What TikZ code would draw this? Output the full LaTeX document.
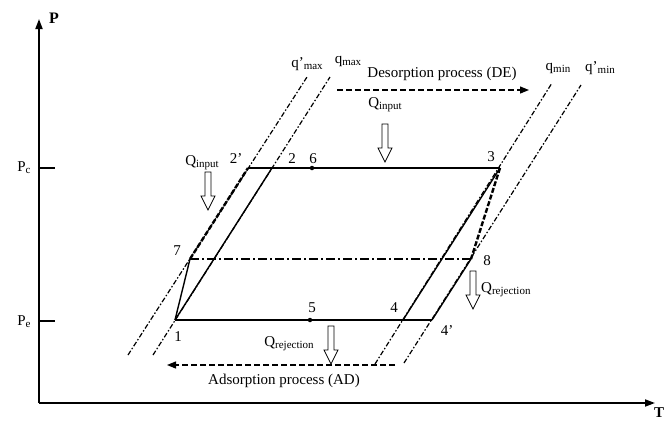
\documentclass[tikz,border=0pt]{standalone}
\usepackage{fontspec}
\setmainfont{Liberation Serif}
\usetikzlibrary{arrows.meta}

\newcommand{\lowtxt}[1]{\raisebox{-0.3ex}{\fontsize{11}{11}\selectfont #1}}

\begin{document}
\begin{tikzpicture}[x=1pt, y=-1pt,
  axis/.style={line width=1.8pt, -{Triangle[length=10pt,width=7pt]}},
  cycleline/.style={line width=1.4pt},
  iso/.style={line width=1.2pt, dash pattern=on 5pt off 2pt on 1.5pt off 2pt},
  isobold/.style={line width=2.4pt, dash pattern=on 5pt off 2pt},
  midline/.style={line width=1.7pt, dash pattern=on 9pt off 3pt on 2pt off 3pt},
  process/.style={line width=1.2pt, dash pattern=on 6pt off 3pt, -{Triangle[length=9pt,width=7pt]}},
  lbl/.style={font=\fontsize{15}{15}\selectfont, inner sep=1pt},
  dot/.style={circle, fill, inner sep=0pt, minimum size=4.5pt},
  heatdown/.pic={\draw[line width=0.8pt, fill=white] (-3,0) -- (3,0) -- (3,24) -- (7,24) -- (0,38) -- (-7,24) -- (-3,24) -- cycle;},
]
\useasboundingbox (0,0) rectangle (665,421);

% axes
\coordinate (origin) at (39,403);
\coordinate (ptop) at (39,19);
\coordinate (tend) at (655,403);
\draw[axis] (origin) -- (ptop);
\draw[axis] (origin) -- (tend);
\node[lbl, anchor=west, font=\fontsize{16}{16}\selectfont\bfseries] (plabel) at (48,18) {P};
\node[lbl, anchor=north, font=\fontsize{15}{15}\selectfont\bfseries] (tlabel) at (659,406) {T};

\coordinate (pcl) at (39,168);
\coordinate (pcr) at (55,168);
\coordinate (pel) at (39,321);
\coordinate (per) at (55,321);
\draw[line width=1.2pt] (pcl) -- (pcr);
\draw[line width=1.2pt] (pel) -- (per);
\node[lbl] (pc) at (24,168) {P\lowtxt{c}};
\node[lbl] (pe) at (24,322) {P\lowtxt{e}};

% cycle points
\coordinate (p1) at (175,320);
\coordinate (p2) at (272,168);
\coordinate (p2p) at (248,168);
\coordinate (p3) at (500,168);
\coordinate (p4) at (403,320);
\coordinate (p4p) at (432,320);
\coordinate (p7) at (190,259);
\coordinate (p8) at (471,259);
\node[dot] (p5) at (310,320) {};
\node[dot] (p6) at (312,168) {};

% isosteres
\coordinate (qpmaxa) at (128,355);
\coordinate (qpmaxb) at (307,77);
\coordinate (qmaxa) at (153,355);
\coordinate (qmaxb) at (330,77);
\coordinate (qmina) at (375,364);
\coordinate (qminb) at (552,83);
\coordinate (qpmina) at (404,363);
\coordinate (qpminb) at (581,85);
\draw[iso] (qpmaxa) -- (qpmaxb);
\draw[iso] (qmaxa) -- (qmaxb);
\draw[iso] (qmina) -- (qminb);
\draw[iso] (qpmina) -- (qpminb);
\node[lbl] (lqpmax) at (307,64) {q’\lowtxt{max}};
\node[lbl] (lqmax) at (348,61) {q\lowtxt{max}};
\node[lbl] (lqmin) at (558,68) {q\lowtxt{min}};
\node[lbl] (lqpmin) at (600,68) {q’\lowtxt{min}};

% cycle lines
\draw[cycleline] (p1) -- (p2);
\draw[cycleline] (p2p) -- (p3);
\draw[cycleline] (p3) -- (p4);
\draw[cycleline] (p1) -- (p4p);
\draw[cycleline] (p4p) -- (p8);
\draw[cycleline] (p1) -- (p7);
\draw[midline] (p7) -- (p8);
\draw[isobold] (p7) -- (p2p);
\draw[isobold] (p3) -- (p8);

% point labels
\node[lbl] (l1) at (178,337) {1};
\node[lbl] (l2) at (292,159) {2};
\node[lbl] (l2p) at (236,159) {2’};
\node[lbl] (l3) at (491,157) {3};
\node[lbl] (l4) at (394,308) {4};
\node[lbl] (l4p) at (447,331) {4’};
\node[lbl] (l5) at (312,308) {5};
\node[lbl] (l6) at (313,159) {6};
\node[lbl] (l7) at (177,251) {7};
\node[lbl] (l8) at (487,261) {8};

% processes
\coordinate (dea) at (337,90);
\coordinate (deb) at (529,90);
\draw[process] (dea) -- (deb);
\node[lbl] (detext) at (442,74) {Desorption process (DE)};
\coordinate (ada) at (395,365);
\coordinate (adb) at (167,365);
\draw[process] (ada) -- (adb);
\node[lbl] (adtext) at (284,381) {Adsorption process (AD)};

% heat flows
\node[lbl] (qin1) at (385,105) {Q\lowtxt{input}};
\pic at (385,124) {heatdown};
\node[lbl] (qin2) at (202,163) {Q\lowtxt{input}};
\pic at (208,172) {heatdown};
\node[lbl] (qrej1) at (289,344) {Q\lowtxt{rejection}};
\pic at (331,326) {heatdown};
\node[lbl, anchor=west] (qrej2) at (480,290) {Q\lowtxt{rejection}};
\pic at (473,271) {heatdown};

\end{tikzpicture}
\end{document}
